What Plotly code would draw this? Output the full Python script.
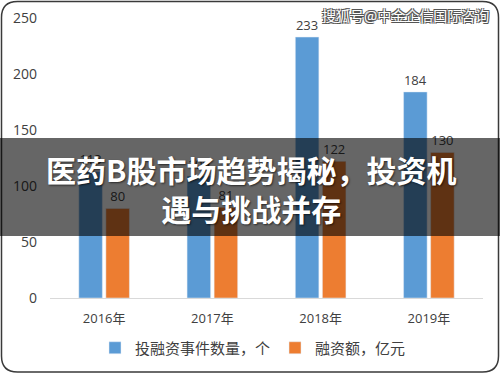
import plotly.graph_objects as go

years = ["2016年", "2017年", "2018年", "2019年"]
events = [113, 109, 233, 184]
amounts = [80, 81, 122, 130]
series_names = ["投融资事件数量，个", "融资额，亿元"]
y_ticks = [0, 50, 100, 150, 200, 250]
title_text = "医药B股市场趋势揭秘，投资机<br>遇与挑战并存"
watermark = "搜狐号@中金企信国际咨询"

W, H = 500, 374
L, R, T, B = 50, 17, 18, 76
PW, PH = W - L - R, H - T - B


def px2x(px):
    return (px - L) / PW


def px2y(py):
    return (H - B - py) / PH


fig = go.Figure()
fig.add_trace(go.Bar(
    x=years, y=events, name=series_names[0], marker_color="#5B9BD5",
    text=events, textposition="outside",
    textfont=dict(size=13, color="#404040"), cliponaxis=False))
fig.add_trace(go.Bar(
    x=years, y=amounts, name=series_names[1], marker_color="#ED7D31",
    text=amounts, textposition="outside",
    textfont=dict(size=13, color="#404040"), cliponaxis=False))

# rounded frame
r = 16
x0, y0, x1, y1 = 1.5, 1.5, 498.5, 372
path = (
    f"M {px2x(x0 + r)},{px2y(y0)} L {px2x(x1 - r)},{px2y(y0)} "
    f"Q {px2x(x1)},{px2y(y0)} {px2x(x1)},{px2y(y0 + r)} "
    f"L {px2x(x1)},{px2y(y1 - r)} Q {px2x(x1)},{px2y(y1)} {px2x(x1 - r)},{px2y(y1)} "
    f"L {px2x(x0 + r)},{px2y(y1)} Q {px2x(x0)},{px2y(y1)} {px2x(x0)},{px2y(y1 - r)} "
    f"L {px2x(x0)},{px2y(y0 + r)} Q {px2x(x0)},{px2y(y0)} {px2x(x0 + r)},{px2y(y0)} Z"
)

shapes = [
    dict(type="path", xref="paper", yref="paper", path=path,
         line=dict(color="#3a3a3a", width=1.5), layer="above"),
    dict(type="rect", xref="paper", yref="paper",
         x0=px2x(0), x1=px2x(W), y0=px2y(236), y1=px2y(138),
         fillcolor="rgba(0,0,0,0.6)", line=dict(width=0), layer="above"),
]

annotations = [
    dict(text=f"<b>{title_text}</b>", xref="paper", yref="paper",
         x=px2x(251), y=px2y(188), xanchor="center", yanchor="middle",
         showarrow=False, align="center",
         font=dict(family="Noto Sans CJK SC", size=30, color="white",
                   shadow="1px 1px 2px rgba(0,0,0,0.6)")),
    dict(text=watermark, xref="paper", yref="paper",
         x=px2x(405), y=px2y(15), xanchor="center", yanchor="middle",
         showarrow=False,
         font=dict(family="Noto Sans CJK SC", size=14, color="white",
                   shadow="-1px -1px 0 #555, 1px -1px 0 #555, -1px 1px 0 #555, 1px 1px 0 #555")),
]

fig.update_layout(
    width=W, height=H,
    margin=dict(l=L, r=R, t=T, b=B, autoexpand=False),
    paper_bgcolor="white", plot_bgcolor="white",
    barmode="group", bargap=0.5, bargroupgap=0.13,
    font=dict(family="Open Sans, Noto Sans CJK SC", color="#404040"),
    showlegend=True,
    legend=dict(orientation="h", xref="container", yref="container",
                x=253 / W, y=1 - 348 / H,
                xanchor="center", yanchor="middle",
                font=dict(family="Noto Sans CJK SC", size=15, color="#404040"),
                itemwidth=30, tracegroupgap=0),
    xaxis=dict(showgrid=False, showline=True, linecolor="#d9d9d9", linewidth=1,
               tickfont=dict(size=13, color="#404040"), ticks="",
               ticklabelstandoff=8, automargin=False),
    yaxis=dict(range=[0, 250], tickvals=y_ticks, showgrid=False, zeroline=False,
               showline=False, tickfont=dict(size=14, color="#404040"),
               ticklabelstandoff=12, automargin=False),
    shapes=shapes,
    annotations=annotations,
)

fig.write_html(
    "out.html",
    config={"displayModeBar": False},
    post_script=(
        "document.documentElement.style.margin='0';"
        "document.body.style.margin='0';document.body.style.padding='0';"
        "document.documentElement.style.overflow='hidden';"
        "document.body.style.overflow='hidden';"
        "var gd=document.getElementById('{plot_id}');"
        "gd.style.position='fixed';gd.style.left='0px';gd.style.top='0px';"
    ),
)
